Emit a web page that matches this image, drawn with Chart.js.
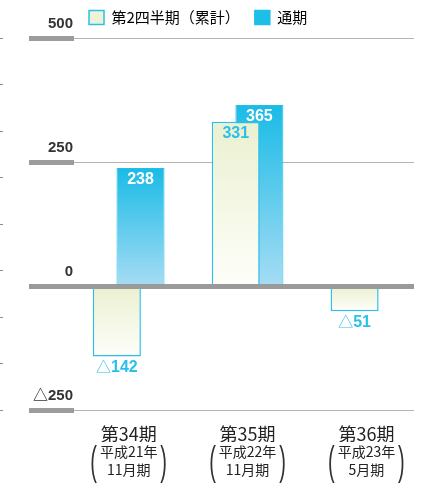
<!DOCTYPE html>
<html lang="ja">
<head>
<meta charset="utf-8">
<title>経常利益</title>
<script src="https://cdn.jsdelivr.net/npm/chart.js@4.4.1/dist/chart.umd.min.js"></script>
<style>
  html, body { margin: 0; padding: 0; background: #ffffff; }
  #wrap { width: 423px; height: 485px; position: relative; }
</style>
</head>
<body>
<div id="wrap"><canvas id="chart"></canvas></div>
<script>
// ---- data ----
const periods = ['第34期', '第35期', '第36期'];
const periodNotes = [['平成21年', '11月期'], ['平成22年', '11月期'], ['平成23年', '5月期']];
const seriesNames = ['第2四半期（累計）', '通期'];
const q2Cumulative = [-142, 331, -51];
const fullYear = [238, 365, null];
const yTickValues = [-250, 0, 250, 500];

// ---- look ----
const Y_MIN = -250, Y_MAX = 500;
const X_MIN = 0.54, X_MAX = 3.4;
const CYAN = '#2bc0ea';
const Q2_TOP = '#ebf0d0', Q2_BOTTOM = '#fefefa';
const FY_TOP = '#19bbe6', FY_BOTTOM = '#a6dcf4';
const GRID = '#b3b3b3', STUB = '#9c9c9d';
const NUM_FONT = "'Liberation Sans Narrow', 'Liberation Sans', Arial, 'Noto Sans CJK JP', sans-serif";
const JP_FONT = "'Noto Sans CJK JP', sans-serif";

const fmt = v => (v < 0 ? '△' + Math.abs(v) : String(v));

// vertical gradient spanning each bar from its top edge to its bottom edge
function barFill(top, bottom) {
  return context => {
    const chart = context.chart;
    const ys = chart.scales.y;
    if (context.type !== 'data' || !ys || !chart.chartArea) return top;
    const v = context.parsed && context.parsed.y;
    if (v === null || v === undefined || isNaN(v)) return top;
    const y0 = ys.getPixelForValue(Math.max(v, 0));
    const y1 = ys.getPixelForValue(Math.min(v, 0));
    if (!isFinite(y0) || !isFinite(y1) || y0 === y1) return top;
    const g = chart.ctx.createLinearGradient(0, y0, 0, y1);
    g.addColorStop(0, top);
    g.addColorStop(1, bottom);
    return g;
  };
}

// value labels: inside the bar top for positives, under the bar for negatives
const valueLabels = {
  id: 'valueLabels',
  afterDatasetsDraw(chart) {
    const ctx = chart.ctx;
    chart.data.datasets.forEach((ds, di) => {
      const meta = chart.getDatasetMeta(di);
      if (meta.hidden) return;
      meta.data.forEach((bar, i) => {
        const v = ds.data[i].y;
        if (v === null || v === undefined) return;
        const neg = v < 0;
        const mark = neg ? '△' : '';
        const digits = String(Math.abs(v));
        const markFont = "15px 'Noto Sans CJK JP', sans-serif";
        const digitFont = 'bold 16px ' + NUM_FONT;
        ctx.save();
        ctx.fillStyle = ds.valueLabelColor;
        ctx.textBaseline = 'alphabetic';
        ctx.textAlign = 'left';
        ctx.font = markFont;
        const mw = mark ? ctx.measureText(mark).width : 0;
        ctx.font = digitFont;
        const dw = ctx.measureText(digits).width;
        const x0 = bar.x - (mw + dw) / 2;
        const baseY = neg ? bar.y + 15.5 : bar.y + 16;
        if (mark) {
          ctx.font = markFont;
          ctx.fillText(mark, x0, baseY);
        }
        ctx.font = digitFont;
        ctx.fillText(digits, x0 + mw, baseY);
        ctx.restore();
      });
    });
  }
};

// tall parentheses around the two-line period notes
const noteBrackets = {
  id: 'noteBrackets',
  afterDraw(chart) {
    const xs = chart.scales.x2;
    if (!xs) return;
    const ctx = chart.ctx;
    ctx.save();
    ctx.fillStyle = '#333333';
    ctx.font = "40px 'Liberation Sans', Arial, sans-serif";
    ctx.textAlign = 'center';
    ctx.textBaseline = 'alphabetic';
    const baseline = xs.top + 33;
    xs.ticks.forEach(t => {
      const cx = xs.getPixelForValue(t.value);
      [['(', -35], [')', 35]].forEach(([ch, dx]) => {
        ctx.save();
        ctx.translate(cx + dx, baseline);
        ctx.scale(0.5, 1);
        ctx.fillText(ch, 0, 0);
        ctx.restore();
      });
    });
    ctx.restore();
  }
};

const tickGrid = c => (c.tick && c.tick.value === 0 ? 'rgba(0,0,0,0)' : GRID);
const tickStub = c => (c.tick && c.tick.value === 0 ? 'rgba(0,0,0,0)' : STUB);

new Chart(document.getElementById('chart'), {
  type: 'bar',
  data: {
    datasets: [
      {
        label: seriesNames[0],
        data: q2Cumulative.map((v, i) => ({ x: i + 1, y: v })),
        backgroundColor: barFill(Q2_TOP, Q2_BOTTOM),
        borderColor: CYAN,
        borderWidth: 1.5,
        categoryPercentage: 0.398,
        barPercentage: 2.03,
        valueLabelColor: CYAN
      },
      {
        label: seriesNames[1],
        data: fullYear.map((v, i) => ({ x: i + 1, y: v })),
        backgroundColor: barFill(FY_TOP, FY_BOTTOM),
        borderColor: '#22bde8',
        borderWidth: 1,
        categoryPercentage: 0.398,
        barPercentage: 2.03,
        valueLabelColor: '#ffffff'
      }
    ]
  },
  options: {
    responsive: true,
    maintainAspectRatio: false,
    animation: false,
    layout: { padding: { top: -5, right: 9, bottom: 0, left: 0 } },
    plugins: {
      legend: {
        position: 'top',
        align: 'start',
        fullSize: false,
        labels: {
          boxWidth: 15,
          boxHeight: 14,
          padding: 15,
          color: '#333333',
          font: { family: JP_FONT, size: 15 },
          generateLabels: () => seriesNames.map((name, i) => ({
            text: name,
            fillStyle: i === 0 ? '#eef3d6' : '#1dbfe8',
            strokeStyle: i === 0 ? CYAN : '#1dbfe8',
            lineWidth: 1.5,
            hidden: false,
            datasetIndex: i
          }))
        }
      },
      subtitle: {
        display: true,
        text: '',
        weight: 500,
        position: 'top',
        padding: 0,
        font: { size: 3, lineHeight: 1 }
      },
      tooltip: { enabled: false }
    },
    scales: {
      x: {
        type: 'linear',
        position: 'bottom',
        weight: 1,
        offset: false,
        min: X_MIN,
        max: X_MAX,
        afterBuildTicks: s => { s.ticks = periods.map((_, i) => ({ value: i + 1 })); },
        afterFit: s => { s.height = 32; },
        grid: { display: false, drawTicks: false, offset: false },
        border: { display: false },
        ticks: {
          padding: 13,
          color: '#222222',
          maxRotation: 0,
          autoSkip: false,
          font: { family: JP_FONT, size: 18 },
          callback: v => periods[v - 1]
        }
      },
      x2: {
        type: 'linear',
        position: 'bottom',
        weight: 2,
        offset: false,
        min: X_MIN,
        max: X_MAX,
        afterBuildTicks: s => { s.ticks = periods.map((_, i) => ({ value: i + 1 })); },
        afterFit: s => { s.height = 43; },
        grid: { display: false, drawTicks: false, offset: false },
        border: { display: false },
        ticks: {
          padding: 1,
          color: '#222222',
          maxRotation: 0,
          autoSkip: false,
          font: { family: JP_FONT, size: 14, lineHeight: 1.29 },
          callback: v => periodNotes[v - 1]
        }
      },
      yMinor: {
        type: 'linear',
        position: 'left',
        weight: 3,
        min: Y_MIN,
        max: Y_MAX,
        afterBuildTicks: s => {
          s.ticks = Array.from({ length: 9 }, (_, k) => ({ value: Y_MIN + k * (Y_MAX - Y_MIN) / 8 }));
        },
        afterFit: s => { s.width = 3; },
        ticks: { display: false },
        border: { display: false },
        grid: { drawOnChartArea: false, drawTicks: true, tickLength: 3, tickWidth: 1, tickColor: '#8a8a8a' }
      },
      y: {
        type: 'linear',
        position: 'left',
        weight: 2,
        min: Y_MIN,
        max: Y_MAX,
        afterBuildTicks: s => { s.ticks = yTickValues.map(v => ({ value: v })); },
        afterFit: s => { s.width = 71; },
        border: { display: false },
        grid: {
          color: tickGrid,
          lineWidth: 1,
          drawTicks: true,
          tickLength: 45,
          tickWidth: 5,
          tickColor: tickStub
        },
        ticks: {
          padding: -44,
          labelOffset: -14,
          color: '#333333',
          font: { family: NUM_FONT, size: 15, weight: 'bold' },
          callback: v => fmt(v)
        }
      },
      yZero: {
        type: 'linear',
        position: 'left',
        weight: 1,
        min: Y_MIN,
        max: Y_MAX,
        afterBuildTicks: s => { s.ticks = [{ value: 0 }]; },
        afterFit: s => { s.width = 0; },
        ticks: { display: false },
        border: { display: false },
        grid: {
          z: 1,
          color: '#9a9a9b',
          lineWidth: 5,
          drawTicks: true,
          tickLength: 45,
          tickWidth: 5,
          tickColor: '#9a9a9b'
        }
      }
    }
  },
  plugins: [valueLabels, noteBrackets]
});
</script>
</body>
</html>
